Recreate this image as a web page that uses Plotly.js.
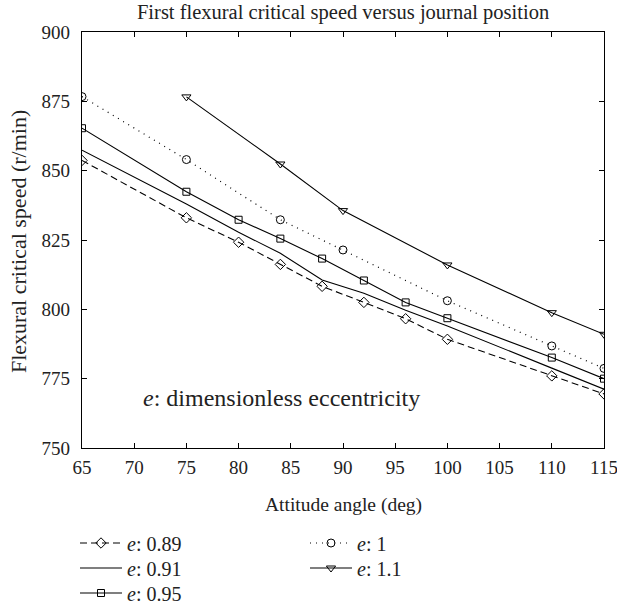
<!DOCTYPE html>
<html>
<head>
<meta charset="utf-8">
<script src="https://cdn.plot.ly/plotly-3.0.1.min.js"></script>
<style>html,body{margin:0;padding:0;background:#fff;}#chart{width:617px;height:604px;}</style>
</head>
<body>
<div id="chart"></div>
<script>
var xA = [65, 75, 80, 84, 88, 92, 96, 100, 110, 115];
var y089 = [853.7, 833, 824.2, 816.2, 808.3, 802.5, 796.6, 789.2, 776, 769.5];
var y091 = [857.4, 838, 827.8, 820.2, 810.6, 805.8, 799.7, 794, 778.8, 771.2];
var y095 = [865.3, 842.4, 832.3, 825.5, 818.3, 810.4, 802.5, 796.8, 782.6, 775];
var x1 = [65, 75, 84, 90, 100, 110, 115];
var y1 = [876.7, 854, 832.3, 821.4, 803.1, 786.8, 778.7];
var x11 = [75, 84, 90, 100, 110, 115];
var y11 = [876.6, 852.4, 835.6, 816, 798.8, 791];
var xTicks = [65, 70, 75, 80, 85, 90, 95, 100, 105, 110, 115];
var yTicks = [750, 775, 800, 825, 850, 875, 900];
var names = ['<i>e</i>: 0.89', '<i>e</i>: 0.91', '<i>e</i>: 0.95', '<i>e</i>: 1', '<i>e</i>: 1.1'];

var F = 'Liberation Serif, Times New Roman, serif';
var TC = '#222';
var mk = function(sym, s){ return {symbol: sym, size: s, color: 'black', line: {color: 'black', width: 1}}; };
var traces = [
  {x: xA, y: y089, name: names[0], mode: 'lines+markers', line: {color: 'black', width: 1.1, dash: '7px,4px'}, marker: mk('diamond-open', 8), legend: 'legend'},
  {x: xA, y: y091, name: names[1], mode: 'lines', line: {color: 'black', width: 1.1}, legend: 'legend2'},
  {x: xA, y: y095, name: names[2], mode: 'lines+markers', line: {color: 'black', width: 1.1}, marker: mk('square-open', 7), legend: 'legend3'},
  {x: x1, y: y1, name: names[3], mode: 'lines+markers', line: {color: 'black', width: 1.2, dash: '1px,5px'}, marker: mk('circle-open', 8), legend: 'legend4'},
  {x: x11, y: y11, name: names[4], mode: 'lines+markers', line: {color: 'black', width: 1.1}, marker: mk('triangle-down-open', 8), legend: 'legend5'}
];
var axisCommon = {
  showgrid: false, zeroline: false, showline: true, linecolor: 'black', linewidth: 1.3,
  mirror: 'ticks', ticks: 'inside', ticklen: 5, tickwidth: 1, tickcolor: 'black',
  tickmode: 'array', ticklabeloverflow: 'allow', tickfont: {family: F, size: 19, color: TC}
};
function leg(px, py) {
  return {xref: 'container', yref: 'container', xanchor: 'left', yanchor: 'middle',
    x: px / 617, y: 1 - py / 604,
    bgcolor: 'rgba(0,0,0,0)', font: {family: F, size: 20, color: TC}, itemwidth: 42};
}
var layout = {
  width: 617, height: 604,
  margin: {l: 82, r: 13, t: 32, b: 156, autoexpand: false},
  paper_bgcolor: 'white', plot_bgcolor: 'white',
  font: {family: F, color: TC},
  title: {text: 'First flexural critical speed versus journal position', font: {family: F, size: 20.5, color: TC}, x: 0.556, xanchor: 'center', y: 0.98, yanchor: 'middle'},
  xaxis: Object.assign({}, axisCommon, {range: [65, 115], tickvals: xTicks, ticktext: xTicks.map(String), ticklabelstandoff: 2}),
  yaxis: Object.assign({}, axisCommon, {range: [750, 900], tickvals: yTicks, ticktext: yTicks.map(String), ticklabelstandoff: 7}),
  showlegend: true,
  legend: leg(75, 543),
  legend2: leg(75, 568),
  legend3: leg(75, 593),
  legend4: leg(305, 543),
  legend5: leg(305, 568),
  annotations: [
    {xref: 'paper', yref: 'paper', x: 0.383, y: 0.085, showarrow: false,
     text: '<i>e</i>: dimensionless eccentricity', font: {family: F, size: 24, color: TC}},
    {xref: 'paper', yref: 'paper', x: 0.5, y: -0.137, showarrow: false, yanchor: 'middle',
     text: 'Attitude angle (deg)', font: {family: F, size: 19.5, color: TC}},
    {xref: 'paper', yref: 'paper', x: -0.1226, y: 0.495, showarrow: false, textangle: -90, xanchor: 'center',
     text: 'Flexural critical speed (r/min)', font: {family: F, size: 22, color: TC}}
  ]
};
Plotly.newPlot('chart', traces, layout, {displayModeBar: false, staticPlot: true});
</script>
</body>
</html>
